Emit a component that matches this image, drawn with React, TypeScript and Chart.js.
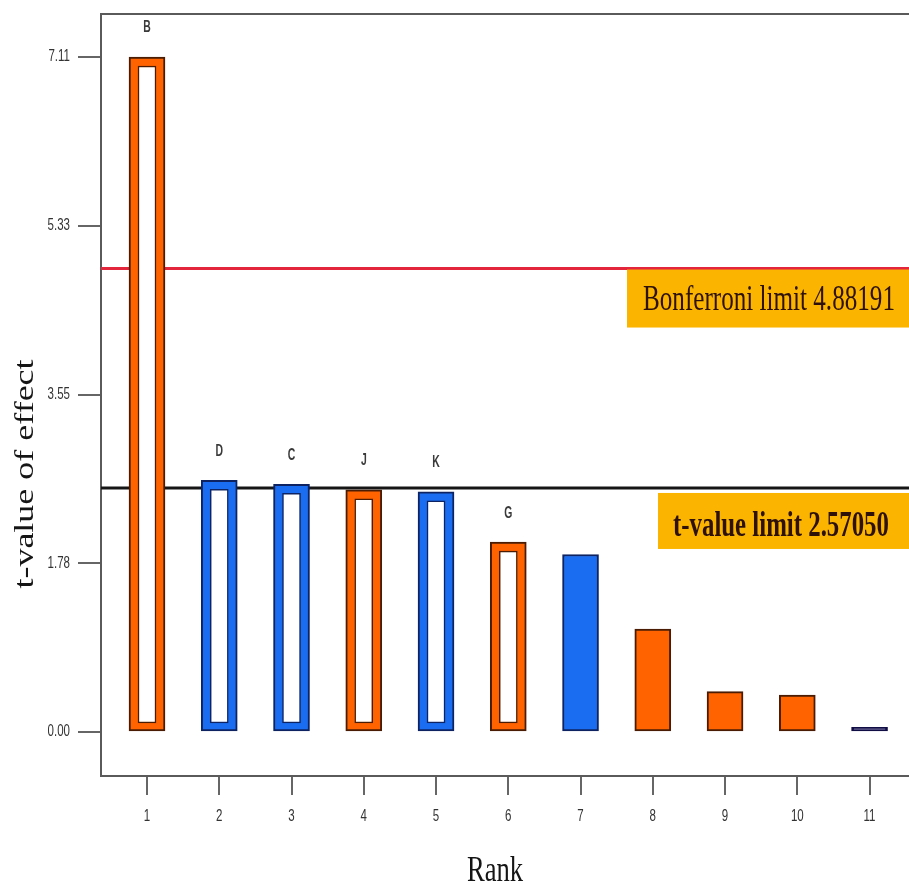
import React, { useEffect, useRef } from "react";
import { Chart, registerables } from "chart.js";

Chart.register(...registerables);

// ---- data ----
const RANKS = [1, 2, 3, 4, 5, 6, 7, 8, 9, 10, 11];
const T_VALUES = [7.11, 2.65, 2.61, 2.55, 2.53, 2.0, 1.87, 1.085, 0.425, 0.39, 0.05];
const EFFECT_LABELS = ["B", "D", "C", "J", "K", "G", "", "", "", "", ""];
const HOLLOW = [true, true, true, true, true, true, false, false, false, false, false];
const BAR_FILL = ["#FF6300", "#1A6CF0", "#1A6CF0", "#FF6300", "#1A6CF0", "#FF6300", "#1A6CF0", "#FF6300", "#FF6300", "#FF6300", "#1A145A"];
const BAR_EDGE = ["#4A1C04", "#0E2462", "#0E2462", "#4A1C04", "#0E2462", "#4A1C04", "#0E2462", "#4A1C04", "#4A1C04", "#4A1C04", "#100C44"];
const Y_TICKS = [0, 1.7775, 3.555, 5.3325, 7.11];
const Y_TICK_LABELS = ["0.00", "1.78", "3.55", "5.33", "7.11"];
const X_TICK_LABELS = ["1", "2", "3", "4", "5", "6", "7", "8", "9", "10", "11"];
const BONFERRONI_LIMIT = 4.88191;
const T_VALUE_LIMIT = 2.5705;
const BONFERRONI_TEXT = "Bonferroni limit 4.88191";
const T_LIMIT_TEXT = "t-value limit 2.57050";
const X_TITLE = "Rank";
const Y_TITLE = "t-value of effect";

const X_MIN = 0.3633;
const X_MAX = 11.546;
const Y_MIN = -0.4635;
const Y_MAX = 7.563;
const INSET = 0.095; // hollow-bar wall thickness in value units

function drawText(
  ctx: CanvasRenderingContext2D,
  text: string,
  x: number,
  y: number,
  font: string,
  color: string,
  align: CanvasTextAlign,
  baseline: CanvasTextBaseline,
  sx: number,
  rotate = 0
) {
  ctx.save();
  ctx.translate(x, y);
  ctx.scale(sx, 1);
  if (rotate) ctx.rotate(rotate);
  ctx.font = font;
  ctx.fillStyle = color;
  ctx.textAlign = align;
  ctx.textBaseline = baseline;
  ctx.fillText(text, 0, 0);
  ctx.restore();
}

const decorPlugin = {
  id: "decor",
  afterDatasetsDraw(chart: any) {
    const ctx: CanvasRenderingContext2D = chart.ctx;
    const { chartArea } = chart;
    const ys = chart.scales.y;

    // top frame line
    ctx.save();
    ctx.strokeStyle = "#5a5a5a";
    ctx.lineWidth = 2;
    ctx.beginPath();
    ctx.moveTo(chartArea.left, chartArea.top);
    ctx.lineTo(chartArea.right, chartArea.top);
    ctx.stroke();
    ctx.restore();

    // limit boxes
    const yB = ys.getPixelForValue(BONFERRONI_LIMIT);
    ctx.fillStyle = "#FBB500";
    ctx.fillRect(627, yB + 1, chartArea.right - 627, 58);
    drawText(ctx, BONFERRONI_TEXT, 643, yB + 41, '35px "Liberation Serif"', "#2E120A", "left", "alphabetic", 0.718);

    const yT = ys.getPixelForValue(T_VALUE_LIMIT);
    ctx.fillStyle = "#FBB500";
    ctx.fillRect(658, yT + 5, chartArea.right - 658, 56);
    drawText(ctx, T_LIMIT_TEXT, 673, yT + 48, 'bold 36px "Liberation Serif"', "#2E120A", "left", "alphabetic", 0.69);

    // effect letters above bars
    const meta = chart.getDatasetMeta(1);
    meta.data.forEach((el: any, i: number) => {
      const lbl = EFFECT_LABELS[i];
      if (!lbl) return;
      drawText(ctx, lbl, el.x, el.y - 29, 'bold 16px "Liberation Sans"', "#3a3a3a", "center", "middle", 0.65);
    });
  },
  afterDraw(chart: any) {
    const ctx: CanvasRenderingContext2D = chart.ctx;
    const xs = chart.scales.x;
    const ys = chart.scales.y;
    const { chartArea } = chart;

    Y_TICKS.forEach((v, i) => {
      drawText(ctx, Y_TICK_LABELS[i], chartArea.left - 31, ys.getPixelForValue(v), '16px "Liberation Sans"', "#333", "right", "middle", 0.72);
    });
    RANKS.forEach((r, i) => {
      drawText(ctx, X_TICK_LABELS[i], xs.getPixelForValue(r), chartArea.bottom + 41, '16px "Liberation Sans"', "#333", "center", "middle", 0.72);
    });

    drawText(ctx, X_TITLE, 495, 881, '35px "Liberation Serif"', "#151515", "center", "alphabetic", 0.76);
    drawText(ctx, Y_TITLE, 33, 474, '36px "Liberation Serif"', "#151515", "center", "alphabetic", 0.75, -Math.PI / 2);
  },
};

export default function App() {
  const ref = useRef<HTMLCanvasElement | null>(null);

  useEffect(() => {
    if (!ref.current) return;
    const innerData = RANKS.map((r, i) => ({ x: r, y: HOLLOW[i] ? [INSET, T_VALUES[i] - INSET] : null })).filter((d) => d.y !== null);
    const innerEdge = BAR_EDGE.filter((_, i) => HOLLOW[i]);

    const chart = new Chart(ref.current, {
      type: "bar",
      data: {
        datasets: [
          {
            type: "bar",
            label: "inner",
            data: innerData as any,
            backgroundColor: "#ffffff",
            borderColor: innerEdge,
            borderWidth: 1.5,
            borderSkipped: false,
            barThickness: 18,
            grouped: false,
            order: 0,
          },
          {
            type: "bar",
            label: "effects",
            data: RANKS.map((r, i) => ({ x: r, y: T_VALUES[i] })) as any,
            backgroundColor: BAR_FILL,
            borderColor: BAR_EDGE,
            borderWidth: 2,
            borderSkipped: false,
            barThickness: 36,
            grouped: false,
            order: 1,
          },
          {
            type: "line",
            label: "Bonferroni",
            data: [
              { x: X_MIN, y: BONFERRONI_LIMIT },
              { x: X_MAX, y: BONFERRONI_LIMIT },
            ] as any,
            borderColor: "#E3263C",
            borderWidth: 3,
            pointRadius: 0,
            order: 2,
          },
          {
            type: "line",
            label: "t-limit",
            data: [
              { x: X_MIN, y: T_VALUE_LIMIT },
              { x: X_MAX, y: T_VALUE_LIMIT },
            ] as any,
            borderColor: "#161616",
            borderWidth: 3,
            pointRadius: 0,
            order: 3,
          },
        ],
      },
      options: {
        animation: false,
        responsive: false,
        maintainAspectRatio: false,
        devicePixelRatio: 1,
        layout: { padding: { top: 14, right: 0, left: 0, bottom: 0 } },
        plugins: { legend: { display: false }, tooltip: { enabled: false } },
        scales: {
          x: {
            type: "linear",
            offset: false,
            min: X_MIN,
            max: X_MAX,
            afterBuildTicks: (s: any) => {
              s.ticks = RANKS.map((v) => ({ value: v }));
            },
            afterFit: (s: any) => {
              s.height = 110;
            },
            ticks: { display: false },
            grid: { offset: false, drawOnChartArea: false, drawTicks: true, tickLength: 19, color: "#666", lineWidth: 2 },
            border: { display: true, color: "#5a5a5a", width: 2 },
          },
          y: {
            type: "linear",
            min: Y_MIN,
            max: Y_MAX,
            afterBuildTicks: (s: any) => {
              s.ticks = Y_TICKS.map((v) => ({ value: v }));
            },
            afterFit: (s: any) => {
              s.width = 101;
            },
            ticks: { display: false },
            grid: { drawOnChartArea: false, drawTicks: true, tickLength: 23, color: "#666", lineWidth: 2 },
            border: { display: true, color: "#5a5a5a", width: 2 },
          },
        },
      },
      plugins: [decorPlugin],
    });
    return () => chart.destroy();
  }, []);

  return (
    <div style={{ position: "absolute", left: 0, top: 0, width: 909, height: 886, background: "#fff" }}>
      <canvas ref={ref} width={909} height={886} style={{ width: 909, height: 886, display: "block" }} />
    </div>
  );
}
